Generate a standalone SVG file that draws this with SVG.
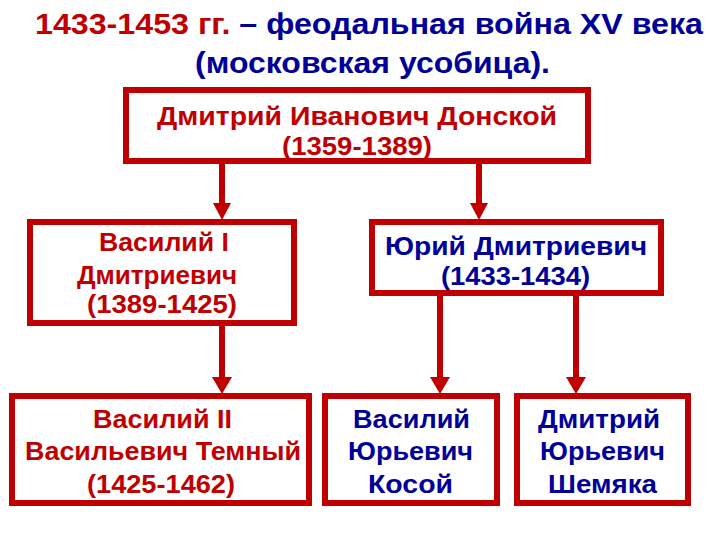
<svg xmlns="http://www.w3.org/2000/svg" width="720" height="540" viewBox="0 0 720 540">
<style>
text{font-family:"Liberation Sans",Arial,sans-serif;font-weight:bold;}
.t{font-size:29px;}
.n{font-size:26px;}
.r{fill:#C00000;}
.b{fill:#000099;}
.box{fill:#FFFFFF;stroke:#C00000;stroke-width:6;}
.ln{stroke:#C00000;stroke-width:6;fill:none;}
.hd{fill:#C00000;}
</style>
<rect width="720" height="540" fill="#FFFFFF"/>
<g id="title">
<text class="t" x="35" y="34" textLength="668" lengthAdjust="spacingAndGlyphs"><tspan class="r">1433-1453 гг.</tspan><tspan class="b"> – феодальная война XV века</tspan></text>
<text class="t b" x="195" y="73" textLength="355" lengthAdjust="spacingAndGlyphs">(московская усобица).</text>
</g>
<g id="connectors">
<line class="ln" x1="222" y1="163" x2="222" y2="205"/>
<polygon class="hd" points="213,203 231,203 222,220"/>
<line class="ln" x1="479" y1="163" x2="479" y2="205"/>
<polygon class="hd" points="470,203 488,203 479,220"/>
<line class="ln" x1="222" y1="325" x2="222" y2="380"/>
<polygon class="hd" points="212,377 232,377 222,394"/>
<line class="ln" x1="440" y1="295" x2="440" y2="380"/>
<polygon class="hd" points="430,377 450,377 440,394"/>
<line class="ln" x1="576" y1="295" x2="576" y2="380"/>
<polygon class="hd" points="566,377 586,377 576,394"/>
</g>
<g id="donskoy">
<rect class="box" x="126" y="90" width="462" height="71"/>
<text class="n r" x="157" y="125" textLength="400" lengthAdjust="spacingAndGlyphs">Дмитрий Иванович Донской</text>
<text class="n r" x="282" y="155" textLength="150" lengthAdjust="spacingAndGlyphs">(1359-1389)</text>
</g>
<g id="vasily1">
<rect class="box" x="30" y="222" width="264" height="101"/>
<text class="n r" x="99" y="251" textLength="130" lengthAdjust="spacingAndGlyphs">Василий I</text>
<text class="n r" x="77" y="284" textLength="160" lengthAdjust="spacingAndGlyphs">Дмитриевич</text>
<text class="n r" x="87" y="313" textLength="150" lengthAdjust="spacingAndGlyphs">(1389-1425)</text>
</g>
<g id="yuri">
<rect class="box" x="372" y="222" width="289" height="71"/>
<text class="n b" x="385" y="255" textLength="262" lengthAdjust="spacingAndGlyphs">Юрий Дмитриевич</text>
<text class="n b" x="441" y="285" textLength="149" lengthAdjust="spacingAndGlyphs">(1433-1434)</text>
</g>
<g id="vasily2">
<rect class="box" x="12" y="396" width="297" height="107"/>
<text class="n r" x="93" y="428" textLength="139" lengthAdjust="spacingAndGlyphs">Василий II</text>
<text class="n r" x="25" y="460" textLength="276" lengthAdjust="spacingAndGlyphs">Васильевич Темный</text>
<text class="n r" x="87" y="493" textLength="148" lengthAdjust="spacingAndGlyphs">(1425-1462)</text>
</g>
<g id="kosoy">
<rect class="box" x="325" y="396" width="172" height="107"/>
<text class="n b" x="353" y="428" textLength="117" lengthAdjust="spacingAndGlyphs">Василий</text>
<text class="n b" x="348" y="460" textLength="125" lengthAdjust="spacingAndGlyphs">Юрьевич</text>
<text class="n b" x="368" y="493" textLength="85" lengthAdjust="spacingAndGlyphs">Косой</text>
</g>
<g id="shemyaka">
<rect class="box" x="517" y="396" width="171" height="107"/>
<text class="n b" x="538" y="428" textLength="122" lengthAdjust="spacingAndGlyphs">Дмитрий</text>
<text class="n b" x="540" y="460" textLength="125" lengthAdjust="spacingAndGlyphs">Юрьевич</text>
<text class="n b" x="548" y="493" textLength="109" lengthAdjust="spacingAndGlyphs">Шемяка</text>
</g>
</svg>
